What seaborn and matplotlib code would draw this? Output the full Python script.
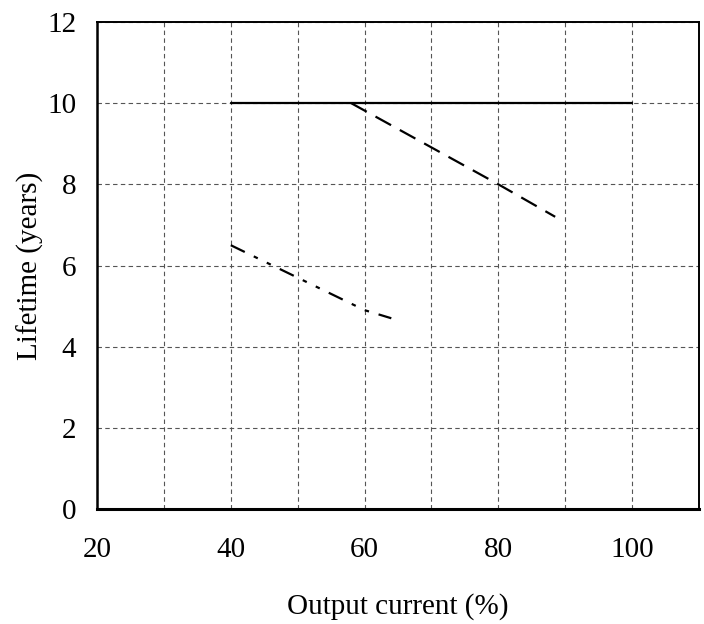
import matplotlib
matplotlib.use("Agg")
import matplotlib.pyplot as plt
import seaborn as sns
import pandas as pd

# Lifetime curves vs output current
solid_x = [40, 100]
solid_y = [10, 10]
dashed_x = [58, 80, 88.5]
dashed_y = [10, 8, 7.2]
dashdot_x = [40, 60, 64]
dashdot_y = [6.5, 4.9, 4.7]

x_ticks = [20, 40, 60, 80, 100]
y_ticks = [0, 2, 4, 6, 8, 10, 12]

sns.set_theme(style="white")
plt.rcParams["font.family"] = ["Liberation Serif", "DejaVu Serif"]

fig = plt.figure(figsize=(7.04, 6.24), dpi=100)
ax = fig.add_axes([97 / 704, 1 - 509 / 624, 602 / 704, 487 / 624])

sns.lineplot(x=solid_x, y=solid_y, ax=ax, color="black", linewidth=1.6,
             sort=False, linestyle="-")
sns.lineplot(x=dashed_x, y=dashed_y, ax=ax, color="black", linewidth=1.6,
             sort=False, linestyle=(0, (8, 4.5)))
sns.lineplot(x=dashdot_x, y=dashdot_y, ax=ax, color="black", linewidth=1.6,
             sort=False, linestyle=(0, (7, 4.5, 2, 4.5, 2, 4.5)))

ax.set_xlim(20, 110)
ax.set_ylim(0, 12)
ax.set_xticks(x_ticks)
ax.set_xticks([30, 50, 70, 90, 110], minor=True)
ax.set_yticks(y_ticks)

ax.grid(True, which="both", color="#555555", linestyle=(0, (4, 3)), linewidth=0.8)
ax.set_axisbelow(True)

ax.tick_params(axis="both", which="both", length=0, labelsize=21, colors="black")
ax.tick_params(axis="x", pad=20)
ax.tick_params(axis="y", pad=15)

for side in ["left", "right", "top"]:
    ax.spines[side].set_color("black")
    ax.spines[side].set_linewidth(1.4)
ax.spines["bottom"].set_color("black")
ax.spines["bottom"].set_linewidth(2.2)
ax.spines["left"].set_linewidth(1.8)

ax.set_xlabel("Output current (%)", fontsize=21, color="black", labelpad=22)
ax.set_ylabel("Lifetime (years)", fontsize=21, color="black", labelpad=2)

fig.savefig("out.png", dpi=100, facecolor="white")
